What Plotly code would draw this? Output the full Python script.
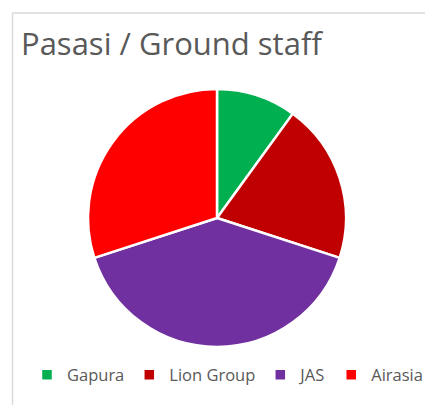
import plotly.graph_objects as go

labels = ["Gapura", "Lion Group", "JAS", "Airasia"]
values = [10, 20, 40, 30]
colors = ["#00B050", "#C00000", "#7030A0", "#FF0000"]
title_text = "Pasasi / Ground staff"

# page has an 8px body margin; figure sized to fill the rest of the window
OFF = 8
W, H = 433 - OFF, 405 - OFF


def px(x):
    return (x - OFF) / W


def py(y):
    return (H - (y - OFF)) / H


fig = go.Figure(go.Pie(
    labels=labels, values=values, sort=False, direction="clockwise", rotation=0,
    marker=dict(colors=colors, line=dict(color="white", width=2.5)),
    textinfo="none", hoverinfo="label+value",
    domain=dict(x=[px(88), px(346)], y=[py(347), py(89)]),
))

fig.update_layout(
    width=W, height=H, margin=dict(l=0, r=0, t=0, b=0),
    paper_bgcolor="white", plot_bgcolor="white",
    showlegend=True,
    legend=dict(orientation="h", x=px(27), xanchor="left", y=py(375), yanchor="middle",
                font=dict(family="Open Sans", size=16.5, color="#595959"),
                bgcolor="rgba(0,0,0,0)", itemwidth=30, tracegroupgap=0),
    annotations=[dict(text=title_text, x=px(19), y=py(43), xref="paper", yref="paper",
                      xanchor="left", yanchor="middle", showarrow=False,
                      font=dict(family="Open Sans", size=31, color="#595959"))],
    shapes=[
        dict(type="line", xref="paper", yref="paper", x0=px(12.5), x1=1.01, y0=py(13), y1=py(13),
             line=dict(color="#D9D9D9", width=1.5)),
        dict(type="line", xref="paper", yref="paper", x0=px(12.5), x1=px(12.5), y0=py(13), y1=-0.01,
             line=dict(color="#D9D9D9", width=1.5)),
    ],
)

fig.write_html("out.html")
